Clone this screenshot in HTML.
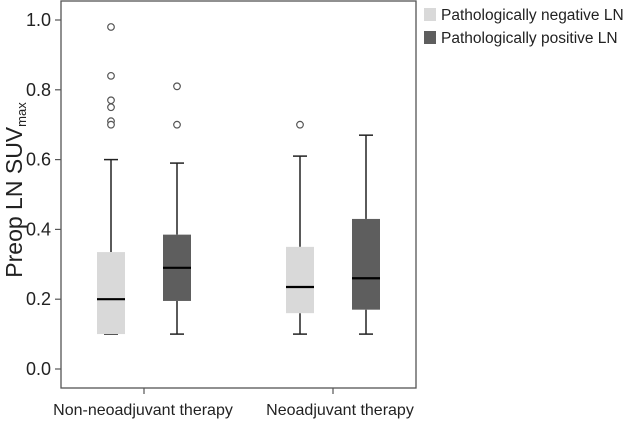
<!DOCTYPE html>
<html><head><meta charset="utf-8"><style>
body{margin:0;background:#fff;width:634px;height:421px;overflow:hidden}
svg{display:block;font-family:"Liberation Sans",Arial,sans-serif}
</style></head><body>
<svg id="c" width="634" height="421"></svg>
<script>
const groups=["Non-neoadjuvant therapy","Neoadjuvant therapy"];
const seriesNames=["Pathologically negative LN","Pathologically positive LN"];
const whiskerLow=[0.1,0.1,0.1,0.1];
const q1=[0.1,0.195,0.16,0.17];
const medians=[0.2,0.29,0.235,0.26];
const q3=[0.335,0.385,0.35,0.43];
const whiskerHigh=[0.6,0.59,0.61,0.67];
const outliers=[[0.98,0.84,0.77,0.75,0.71,0.70],[0.81,0.70],[0.70],[]];
const yTicks=[0,0.2,0.4,0.6,0.8,1.0];
const yTickLabels=["0.0","0.2","0.4","0.6","0.8","1.0"];

const svg=document.getElementById('c');
const NS="http://www.w3.org/2000/svg";
function mk(t,a,p){const e=document.createElementNS(NS,t);for(const k in a)e.setAttribute(k,a[k]);(p||svg).appendChild(e);return e;}
const L=61,R=416,T=1,B=388;
const y=v=>369-v*349;
const groupX=[144,333], off=33, bw=28;
const colors=["#d9d9d9","#5e5e5e"];
const bx=i=>groupX[Math.floor(i/2)]+(i%2===0?-off:off);

let f=mk('rect',{x:L,y:T,width:R-L,height:B-T,fill:'none',stroke:'#555','stroke-width':1.3});



yTicks.forEach((v,i)=>{
  let t=mk('line',{x1:L-6,x2:L,y1:y(v),y2:y(v),stroke:'#555','stroke-width':1.2});
  
  
  let l=mk('text',{x:L-10,y:y(v)+6,'text-anchor':'end','font-size':18,fill:'#222'});
  l.textContent=yTickLabels[i];
  
  
});
groups.forEach((g,i)=>{
  let t=mk('line',{x1:groupX[i],x2:groupX[i],y1:B,y2:B+6,stroke:'#555','stroke-width':1.2});
  
  
  let l=mk('text',{x:i?340:143,y:415,'text-anchor':'middle','font-size':16,fill:'#222'});
  l.textContent=g;
  
  
});
let yt=mk('text',{transform:'translate(22,190) rotate(-90)','text-anchor':'middle','font-size':23,fill:'#222'});
yt.innerHTML='Preop LN SUV<tspan font-size="13" dy="4">max</tspan>';



for(let i=0;i<4;i++){
  const cx=bx(i);
  const g=mk('g',{});
  
  
  mk('line',{x1:cx,x2:cx,y1:y(whiskerHigh[i]),y2:y(q3[i]),stroke:'#222','stroke-width':1.5},g);
  mk('line',{x1:cx,x2:cx,y1:y(q1[i]),y2:y(whiskerLow[i]),stroke:'#222','stroke-width':1.5},g);
  mk('line',{x1:cx-7,x2:cx+7,y1:y(whiskerHigh[i]),y2:y(whiskerHigh[i]),stroke:'#222','stroke-width':1.5},g);
  mk('line',{x1:cx-7,x2:cx+7,y1:y(whiskerLow[i]),y2:y(whiskerLow[i]),stroke:'#222','stroke-width':1.5},g);
  mk('rect',{x:cx-bw/2,y:y(q3[i]),width:bw,height:y(q1[i])-y(q3[i]),fill:colors[i%2]},g);
  mk('line',{x1:cx-bw/2,x2:cx+bw/2,y1:y(medians[i]),y2:y(medians[i]),stroke:'#000','stroke-width':2.2},g);
  outliers[i].forEach(v=>{
    let c=mk('circle',{cx:cx,cy:y(v),r:3.3,fill:'#fff',stroke:'#555','stroke-width':1.2},g);
    
    
  });
}
seriesNames.forEach((s,i)=>{
  const g=mk('g',{});
  
  
  mk('rect',{x:424,y:8+i*23,width:12,height:13,fill:colors[i]},g);
  let t=mk('text',{x:441,y:20+i*23,'font-size':15.5,fill:'#222'},g);
  t.textContent=s;
});
</script>
</body></html>
